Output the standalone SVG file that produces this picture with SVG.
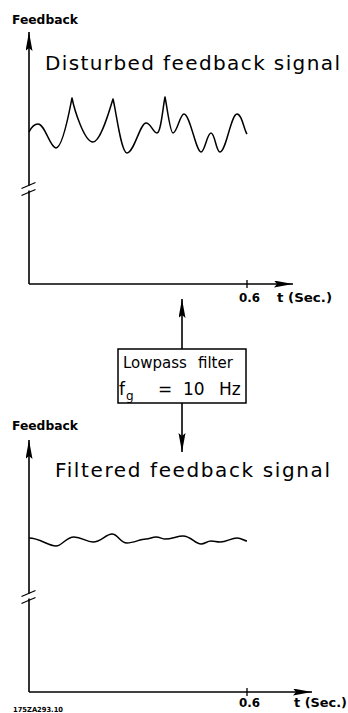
<svg xmlns="http://www.w3.org/2000/svg" width="348" height="713" viewBox="0 0 348 713">
<defs>
<marker id="ah" markerUnits="userSpaceOnUse" markerWidth="20" markerHeight="8" refX="19" refY="3.5" orient="auto">
<path d="M0,0 L19,3.5 L0,7 L3,3.5 z" fill="#000"/>
</marker>
<style>
.ax{stroke:#000;stroke-width:1.6;fill:none}
.wv{stroke:#000;stroke-width:1.5;fill:none;stroke-linejoin:round}
.lbl{font-family:"DejaVu Sans","Liberation Sans",sans-serif;font-weight:bold;font-size:12px;fill:#000}
.ttl{font-family:"DejaVu Sans","Liberation Sans",sans-serif;font-size:20px;fill:#000}
.box{font-family:"DejaVu Sans","Liberation Sans",sans-serif;font-size:15px;fill:#000}
</style>
</defs>
<rect width="348" height="713" fill="#fff"/>

<g id="top-plot">
<text class="lbl" x="12" y="24" textLength="66" lengthAdjust="spacingAndGlyphs">Feedback</text>
<line class="ax" x1="29" y1="185.5" x2="29" y2="32" marker-end="url(#ah)"/>
<line class="ax" x1="29" y1="190.5" x2="29" y2="284"/>
<line class="ax" x1="21.5" y1="188.5" x2="35.5" y2="182.5" style="stroke-width:1.3"/>
<line class="ax" x1="21.5" y1="195.5" x2="35.5" y2="189.5" style="stroke-width:1.3"/>
<line class="ax" x1="29" y1="284" x2="293" y2="284" marker-end="url(#ah)"/>
<line class="ax" x1="247" y1="280" x2="247" y2="288" style="stroke-width:1.3"/>
<text class="lbl" x="239" y="302" textLength="21" lengthAdjust="spacingAndGlyphs">0.6</text>
<text class="lbl" x="277" y="302" textLength="55" lengthAdjust="spacingAndGlyphs">t (Sec.)</text>
<text class="ttl" x="45" y="70" textLength="295" lengthAdjust="spacing">Disturbed feedback signal</text>
<path class="wv" d="M29,132 C32,126 35,124 38,124 C45,124 50,148 56,148 C63,148 70,108 72,98 C74,108 84,142 93,142 C101,142 110,108 113,99 C116,110 121,153 127,153 C134,153 140,123 146,123 C151,123 153,133 157,133 C161,133 163,106 165,97 C167,106 170,133 173,133 C177,133 180,114 184,114 C190,114 196,152 201,152 C205,152 207,133 211,133 C215,133 216,152 220,152 C226,152 231,114 237,114 C242,114 244,130 247,134"/>
</g>

<g id="filter-box">
<rect x="118" y="349" width="128" height="54" fill="#fff" stroke="#000" stroke-width="1.5"/>
<text class="box" y="368"><tspan x="123">Lowpass</tspan><tspan x="198">filter</tspan></text>
<text class="box" y="395"><tspan x="119" style="font-size:17px">f</tspan><tspan x="126" y="400" style="font-size:12px">g</tspan><tspan x="158" y="395" style="font-size:17px">=</tspan><tspan x="183" style="font-size:17px">10</tspan><tspan x="219" style="font-size:17px">Hz</tspan></text>
</g>

<g id="connectors">
<line class="ax" x1="182" y1="349" x2="182" y2="299" marker-end="url(#ah)"/>
<line class="ax" x1="182" y1="403" x2="182" y2="452" marker-end="url(#ah)"/>
</g>

<g id="bottom-plot">
<text class="lbl" x="12" y="430" textLength="66" lengthAdjust="spacingAndGlyphs">Feedback</text>
<line class="ax" x1="29" y1="593.5" x2="29" y2="440" marker-end="url(#ah)"/>
<line class="ax" x1="29" y1="598.5" x2="29" y2="692"/>
<line class="ax" x1="21.5" y1="596.5" x2="35.5" y2="590.5" style="stroke-width:1.3"/>
<line class="ax" x1="21.5" y1="603.5" x2="35.5" y2="597.5" style="stroke-width:1.3"/>
<line class="ax" x1="29" y1="692" x2="312" y2="692" marker-end="url(#ah)"/>
<line class="ax" x1="247" y1="688" x2="247" y2="696" style="stroke-width:1.3"/>
<text class="lbl" x="239" y="707" textLength="21" lengthAdjust="spacingAndGlyphs">0.6</text>
<text class="lbl" x="294" y="707" textLength="53" lengthAdjust="spacingAndGlyphs">t (Sec.)</text>
<text class="ttl" x="55" y="477" textLength="275" lengthAdjust="spacing">Filtered feedback signal</text>
<path class="wv" d="M29,538 C40,538 48,546 56,546 C62,546 66,537 74,537 C82,537 86,542 93,542 C101,542 106,534 112,534 C118,534 120,543 127,543 C134,543 140,539 146,539 C150,539 152,537 156,537 C160,537 162,539 165,539 C172,539 177,536 183,536 C191,536 195,544 201,544 C205,544 207,541 211,541 C215,541 216,542 220,542 C227,542 231,538 237,538 C242,538 244,541 247,541"/>
<text class="lbl" x="13" y="712" style="font-size:7px" textLength="50" lengthAdjust="spacingAndGlyphs">175ZA293.10</text>
</g>
</svg>
